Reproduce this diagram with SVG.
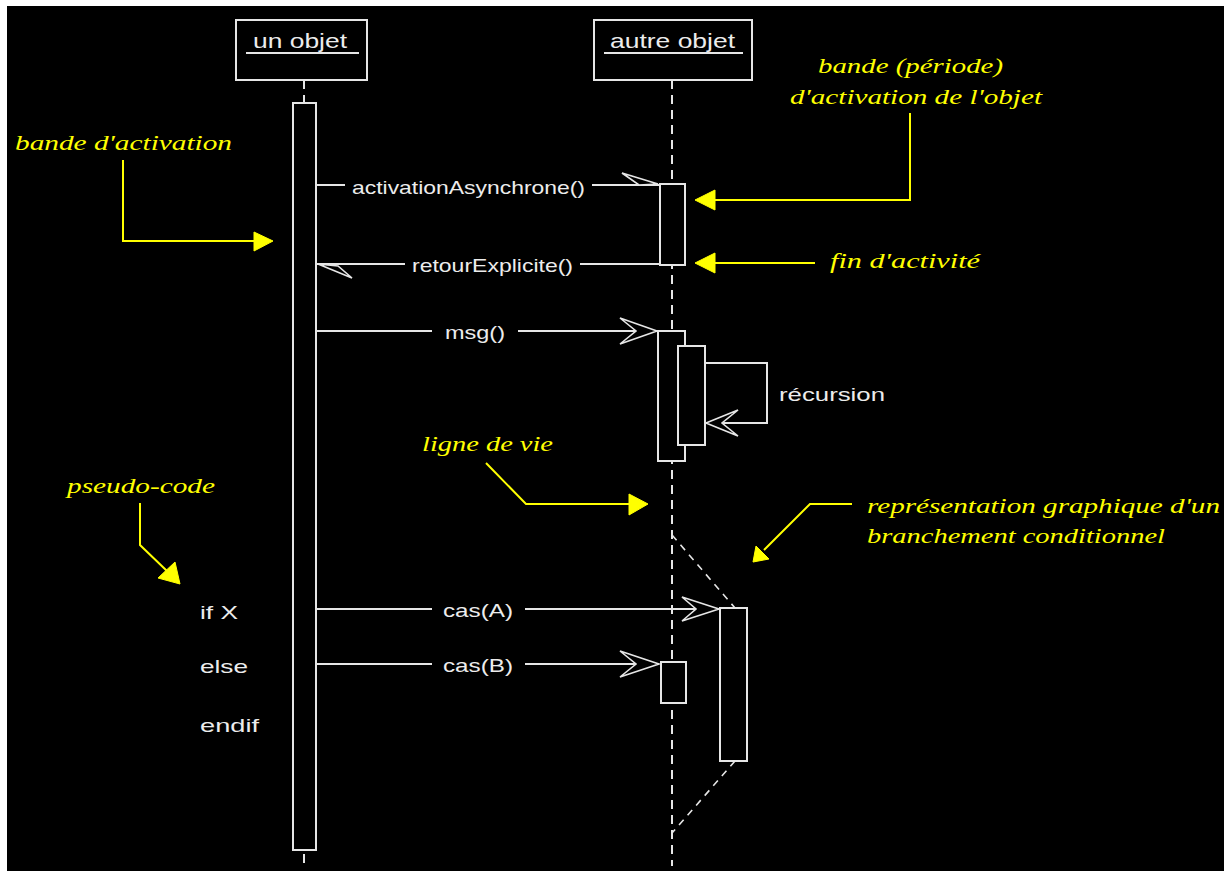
<svg xmlns="http://www.w3.org/2000/svg" width="1224" height="871" viewBox="0 0 1224 871">
<style>
.w{fill:none;stroke:#e6e6e6;stroke-width:2}
.box{fill:#000;stroke:#e6e6e6;stroke-width:2}
.life{fill:none;stroke:#e6e6e6;stroke-width:2;stroke-dasharray:9 6}
.br{fill:none;stroke:#e6e6e6;stroke-width:1.6;stroke-dasharray:7 6}
.head{fill:#000;stroke:#e6e6e6;stroke-width:1.6;stroke-linejoin:miter}
.y{fill:none;stroke:#ffff00;stroke-width:2}
.yh{fill:#ffff00;stroke:#ffff00;stroke-width:1}
.t{font-family:"Liberation Sans",Arial,sans-serif;font-size:19px;fill:#ececec}
.tt{font-family:"Liberation Sans",Arial,sans-serif;font-size:21px;fill:#ececec}
.n{font-family:"Liberation Serif","Times New Roman",serif;font-style:italic;font-size:22px;fill:#ffff00}
</style>
<rect x="0" y="0" width="1224" height="871" fill="#ffffff"/>
<rect x="7" y="6" width="1217" height="865" fill="#000000"/>

<g id="lifelines">
<line class="life" x1="304" y1="80" x2="304" y2="103"/>
<line class="life" x1="304" y1="854" x2="304" y2="866"/>
<line class="life" x1="672" y1="80" x2="672" y2="866"/>
</g>

<g id="obj-un">
<rect class="box" x="236" y="20" width="131" height="60"/>
<text class="tt" x="253" y="48" textLength="94" lengthAdjust="spacingAndGlyphs">un objet</text>
<line class="w" x1="246" y1="53" x2="359" y2="53"/>
</g>
<g id="obj-autre">
<rect class="box" x="594" y="20" width="158" height="60"/>
<text class="tt" x="610" y="48" textLength="125" lengthAdjust="spacingAndGlyphs">autre objet</text>
<line class="w" x1="604" y1="53" x2="743" y2="53"/>
</g>

<g id="branch">
<line class="br" x1="672" y1="535" x2="735" y2="608"/>
<line class="br" x1="735" y1="761" x2="672" y2="833"/>
</g>

<g id="act-un"><rect class="box" x="293" y="103" width="23" height="747"/></g>
<g id="act-async"><rect class="box" x="660" y="184" width="25" height="81"/></g>
<g id="act-msg"><rect class="box" x="658" y="331" width="27" height="130"/></g>
<g id="act-rec"><rect class="box" x="678" y="346" width="27" height="99"/></g>
<g id="act-casA"><rect class="box" x="720" y="608" width="27" height="153"/></g>
<g id="act-casB"><rect class="box" x="661" y="662" width="25" height="41"/></g>

<g id="connectors">
<line class="w" x1="316" y1="185" x2="345" y2="185"/>
<line class="w" x1="592" y1="185" x2="660" y2="185"/>
<polygon class="head" points="622,173 658,184 639,185"/>

<line class="w" x1="316" y1="264" x2="405" y2="264"/>
<line class="w" x1="580" y1="264" x2="660" y2="264"/>
<polygon class="head" points="318,264 352,278 338,266"/>

<line class="w" x1="316" y1="331" x2="432" y2="331"/>
<line class="w" x1="518" y1="331" x2="640" y2="331"/>
<polygon class="head" points="620,318 657,331 620,344 636,331"/>

<polyline class="w" points="705,363 767,363 767,423 722,423"/>
<polygon class="head" points="738,410 706,423 738,436 722,423"/>

<line class="w" x1="316" y1="609" x2="432" y2="609"/>
<line class="w" x1="525" y1="609" x2="700" y2="609"/>
<polygon class="head" points="682,597 719,609 682,621 696,609"/>

<line class="w" x1="316" y1="664" x2="432" y2="664"/>
<line class="w" x1="525" y1="664" x2="640" y2="664"/>
<polygon class="head" points="620,651 659,664 620,677 636,664"/>
</g>

<g id="msg-labels">
<text class="t" x="352" y="194" textLength="233" lengthAdjust="spacingAndGlyphs">activationAsynchrone()</text>
<text class="t" x="412" y="272" textLength="161" lengthAdjust="spacingAndGlyphs">retourExplicite()</text>
<text class="t" x="445" y="339" textLength="60" lengthAdjust="spacingAndGlyphs">msg()</text>
<text class="t" x="779" y="401" textLength="106" lengthAdjust="spacingAndGlyphs">récursion</text>
<text class="t" x="443" y="617" textLength="70" lengthAdjust="spacingAndGlyphs">cas(A)</text>
<text class="t" x="443" y="672" textLength="70" lengthAdjust="spacingAndGlyphs">cas(B)</text>
</g>

<g id="pseudo-code-text">
<text class="t" x="200" y="619" textLength="38" lengthAdjust="spacingAndGlyphs">if X</text>
<text class="t" x="200" y="673" textLength="48" lengthAdjust="spacingAndGlyphs">else</text>
<text class="t" x="200" y="732" textLength="59" lengthAdjust="spacingAndGlyphs">endif</text>
</g>

<g id="note-bande">
<text class="n" x="15" y="150" textLength="217" lengthAdjust="spacingAndGlyphs">bande d'activation</text>
<polyline class="y" points="123,160 123,241 256,241"/>
<polygon class="yh" points="254,232 273,241 254,251"/>
</g>

<g id="note-periode">
<text class="n" x="818" y="73" textLength="185" lengthAdjust="spacingAndGlyphs">bande (période)</text>
<text class="n" x="790" y="104" textLength="252" lengthAdjust="spacingAndGlyphs">d'activation de l'objet</text>
<polyline class="y" points="910,113 910,200 713,200"/>
<polygon class="yh" points="715,190 695,200 715,210"/>
</g>

<g id="note-fin">
<text class="n" x="830" y="268" textLength="150" lengthAdjust="spacingAndGlyphs">fin d'activité</text>
<line class="y" x1="815" y1="263" x2="713" y2="263"/>
<polygon class="yh" points="715,253 695,263 715,273"/>
</g>

<g id="note-ligne">
<text class="n" x="422" y="451" textLength="131" lengthAdjust="spacingAndGlyphs">ligne de vie</text>
<polyline class="y" points="486,463 526,504 630,504"/>
<polygon class="yh" points="629,494 648,504 629,515"/>
</g>

<g id="note-pseudo">
<text class="n" x="67" y="493" textLength="148" lengthAdjust="spacingAndGlyphs">pseudo-code</text>
<polyline class="y" points="140,503 140,545 167,571"/>
<polygon class="yh" points="175,562 180,584 158,578"/>
</g>

<g id="note-branch">
<text class="n" x="867" y="513" textLength="353" lengthAdjust="spacingAndGlyphs">représentation graphique d'un</text>
<text class="n" x="867" y="543" textLength="298" lengthAdjust="spacingAndGlyphs">branchement conditionnel</text>
<polyline class="y" points="852,504 810,504 764,550"/>
<polygon class="yh" points="769,559 753,562 756,546"/>
</g>
</svg>
